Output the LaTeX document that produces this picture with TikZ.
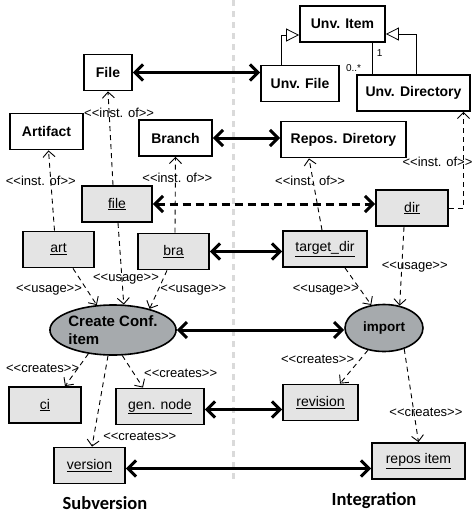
\documentclass[tikz,border=0pt]{standalone}
\usepackage{fontspec}
\setmainfont{Liberation Sans}[Ligatures=TeXOff]
\newfontfamily\sidefont{Carlito}
\usepackage{xcolor}
\usepackage{tikz}
\usetikzlibrary{positioning,shapes.geometric,arrows.meta}
\definecolor{objgray}{RGB}{228,228,228}
\definecolor{actgray}{RGB}{166,170,173}
\definecolor{sepgray}{RGB}{218,218,218}

\begin{document}
\begin{tikzpicture}[x=1pt,y=-1pt,
		cls/.style={draw,line width=1.8pt,fill=white,minimum height=36pt,inner sep=2pt,font=\fontsize{14}{16}\selectfont\bfseries},
		obj/.style={draw,line width=1.8pt,fill=objgray,minimum height=36pt,inner sep=2pt,font=\fontsize{14}{16}\selectfont},
		act/.style={ellipse,draw,line width=1.6pt,fill=actgray,inner sep=0pt,font=\fontsize{15}{18}\selectfont\bfseries},
		dep/.style={line width=0.9pt,dash pattern=on 5pt off 4pt,-{Straight Barb[length=6pt,width=12pt]}},
		link/.style={line width=3pt,{Straight Barb[length=8pt,width=16pt]}-{Straight Barb[length=8pt,width=16pt]}},
		dlink/.style={link,dash pattern=on 8pt off 5pt},
		gen/.style={line width=0.8pt,-{Triangle[open,length=13pt,width=13pt,fill=white]}},
		lbl/.style={font=\fontsize{13}{14}\selectfont,inner sep=0pt},
		mult/.style={font=\fontsize{10}{11}\selectfont,inner sep=2pt},
		side/.style={font=\sidefont\fontsize{18.5}{20}\selectfont\bfseries}]
			\useasboundingbox (0,0) rectangle (474,523);
			\draw[sepgray,line width=3pt,dash pattern=on 6pt off 5pt] (233,0) -- (233,482);

			% classes
			\node[cls,minimum width=85pt] (UnvItem) at (342.5,24) {Unv. Item};
			\node[cls,minimum width=78pt] (UnvFile) at (300,83.5) {Unv. File};
			\node[cls,minimum width=113pt] (UnvDir) at (413.5,93) {Unv. Directory};
			\node[cls,minimum width=125pt] (Repos) at (343.5,139.5) {Repos. Diretory};
			\node[cls,minimum width=48pt] (File) at (108,72.5) {File};
			\node[cls,minimum width=73pt] (Artifact) at (46.5,131.5) {Artifact};
			\node[cls,minimum width=73pt] (Branch) at (175.5,138) {Branch};

			% objects
			\node[obj,minimum width=70pt] (file) at (117,204) {\underline{file}};
			\node[obj,minimum width=71pt] (art) at (58.5,249.5) {\underline{art}};
			\node[obj,minimum width=71pt] (bra) at (173.5,251.5) {\underline{bra}};
			\node[obj,minimum width=72pt] (dir) at (412,208) {\underline{dir}};
			\node[obj,minimum width=84pt] (tdir) at (325,249) {\underline{target\_dir}};
			\node[obj,minimum width=72pt] (ci) at (45,405) {\underline{ci}};
			\node[obj,minimum width=88pt] (gen) at (160,406.5) {\underline{gen. node}};
			\node[obj,minimum width=71pt] (version) at (89.5,465.5) {\underline{version}};
			\node[obj,minimum width=75pt] (revision) at (320.5,402.5) {\underline{revision}};
			\node[obj,minimum width=93pt] (repos) at (418.5,461) {\underline{repos item}};

			% actions
			\node[act,align=left,minimum width=120pt,minimum height=50pt] (create) at (113,330) {Create Conf.\\item};
			\node[act,font=\fontsize{13.5}{15}\selectfont\bfseries,minimum width=78pt,minimum height=47pt] (import) at (384,328) {import};

			\node[side] (svn) at (105,503) {Subversion};
			\node[side] (integ) at (374,501) {Integration};

			% generalization and association
			\draw[gen] ([xshift=-19pt]UnvFile.north) |- ([yshift=-11pt]UnvItem.west);
			\draw[gen] ([xshift=3pt]UnvDir.north) |- ([yshift=-10pt]UnvItem.east);
			\draw[line width=0.8pt] ([xshift=-41pt]UnvDir.north) -- ([xshift=-41pt]UnvDir.north |- UnvItem.south)
					node[mult,pos=.67,right,xshift=2pt] {1}
					node[mult,pos=.2,left,xshift=-9pt] {0..*};

			% mappings
			\draw[link] (File.east) -- (File.east -| UnvFile.west);
			\draw[link] (Branch.east) -- (Branch.east -| Repos.west);
			\draw[dlink] (file.east) -- (file.east -| dir.west);
			\draw[link] (bra.east) -- (bra.east -| tdir.west);
			\draw[link] (create.east) -- (create.east -| import.west);
			\draw[link] ([yshift=-3pt]gen.east) -- ([yshift=-3pt]gen.east -| revision.west);
			\draw[link] ([yshift=-3pt]version.east) -- ([yshift=-3pt]version.east -| repos.west);

			% instance of
			\draw[dep] ([xshift=-4pt]art.north) -- node[lbl,pos=.62,xshift=-10pt] {<<inst. of>>} ([xshift=2pt]Artifact.south);
			\draw[dep] ([xshift=-4pt]file.north) -- node[lbl,pos=.77,xshift=10pt] {<<inst. of>>} (File.south);
			\draw[dep] ([xshift=1.5pt]bra.north) -- node[lbl,pos=.72,xshift=2pt] {<<inst. of>>} (Branch.south);
			\draw[dep] ([xshift=-3pt]tdir.north) -- node[lbl,pos=.68,xshift=-3pt] {<<inst. of>>} ([xshift=-34.5pt]Repos.south);
			\draw[dep] (dir.east) -| node[lbl,pos=.74,xshift=-26pt] {<<inst. of>>} ([xshift=50pt]UnvDir.south);

			% usage
			\draw[dep] ([xshift=14.5pt]art.south) -- node[lbl,pos=.59,xshift=-38pt] {<<usage>>} (create.123);
			\draw[dep] ([xshift=1pt]file.south) -- node[lbl,pos=.69,xshift=4pt] {<<usage>>} (create.67);
			\draw[dep] ([xshift=-6.5pt]bra.south) -- node[lbl,pos=.5,xshift=35pt] {<<usage>>} (create.30);
			\draw[dep] ([xshift=20pt]tdir.south) -- node[lbl,pos=.6,xshift=-35pt] {<<usage>>} (import.119);
			\draw[dep] ([xshift=-8pt]dir.south) -- node[lbl,pos=.51,xshift=13pt] {<<usage>>} (import.55);

			% creates
			\draw[dep] (create.224) -- node[lbl,pos=.46,xshift=-35pt] {<<creates>>} ([xshift=20pt]ci.north);
			\draw[dep] (create.290) -- node[lbl,pos=.55,xshift=47pt] {<<creates>>} ([xshift=-17pt]gen.north);
			\draw[dep] (create.259) -- node[lbl,pos=.89,xshift=46pt] {<<creates>>} ([xshift=2.5pt]version.north);
			\draw[dep] (import.234) -- node[lbl,pos=.26,xshift=-43pt] {<<creates>>} ([xshift=19.5pt]revision.north);
			\draw[dep] (import.314) -- node[lbl,pos=.68,xshift=12pt] {<<creates>>} (repos.north);
\end{tikzpicture}
\end{document}
